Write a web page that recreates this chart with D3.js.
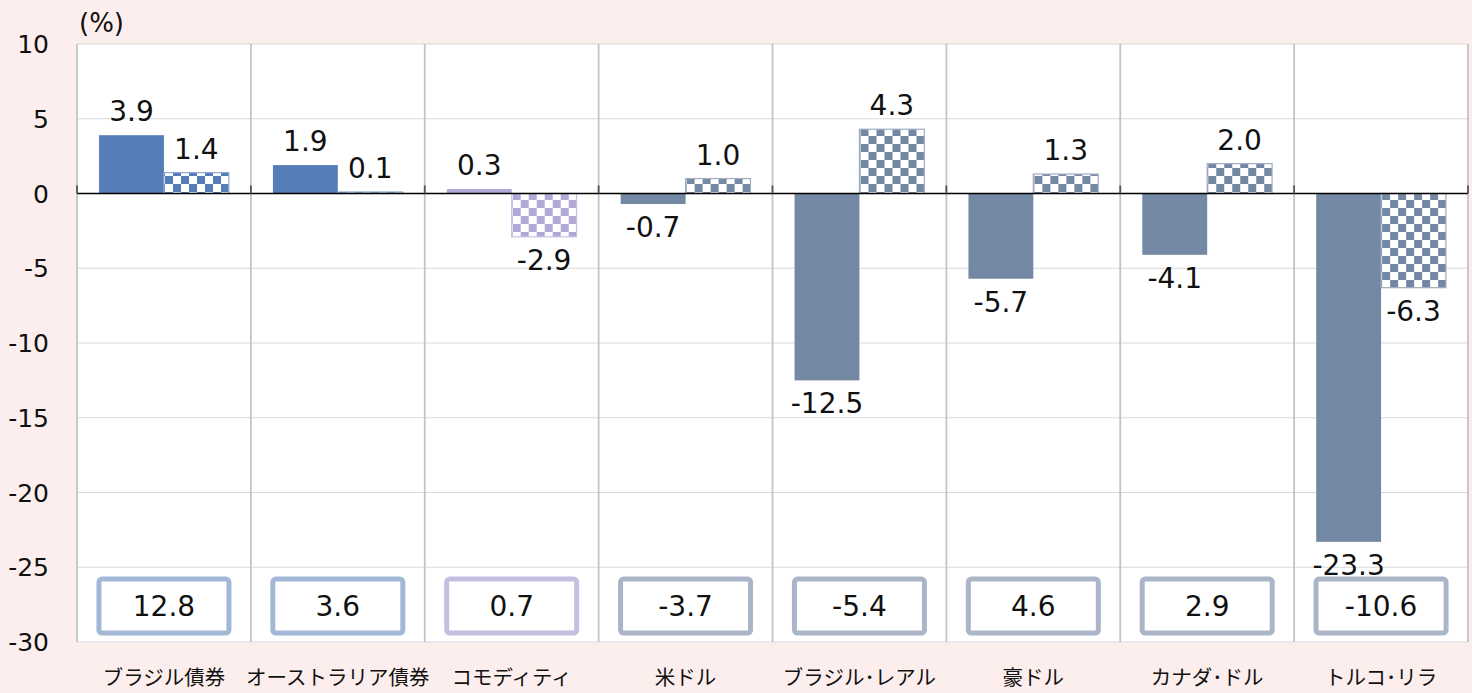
<!DOCTYPE html>
<html>
<head>
<meta charset="utf-8">
<script src="https://cdn.jsdelivr.net/npm/d3@7"></script>
<style>
  html, body { margin: 0; padding: 0; background: #fdeeee; }
  svg { display: block; }
  text { font-family: "DejaVu Sans", "Noto Sans CJK JP", sans-serif; fill: #111; }
  .cat-label { font-family: "Noto Sans CJK JP", sans-serif; }
</style>
</head>
<body>
<svg id="chart"></svg>
<script>
// chart data
const categories = ['ブラジル債券', 'オーストラリア債券', 'コモディティ', '米ドル', 'ブラジル･レアル', '豪ドル', 'カナダ･ドル', 'トルコ･リラ'];
const solidValues = [3.9, 1.9, 0.3, -0.7, -12.5, -5.7, -4.1, -23.3];
const checkValues = [1.4, 0.1, -2.9, 1.0, 4.3, 1.3, 2.0, -6.3];
const boxValues = [12.8, 3.6, 0.7, -3.7, -5.4, 4.6, 2.9, -10.6];
const yTicks = [10, 5, 0, -5, -10, -15, -20, -25, -30];
const groupOf = [0, 0, 1, 2, 2, 2, 2, 2];

const fillColors = ['#557db7', '#b3a7d5', '#7388a3'];
const edgeColors = ['#8fa8d2', '#c9c0e3', '#9eacc0'];
const boxColors = ['#a3b8d7', '#c6bee0', '#aab5c7'];

const width = 1472, height = 693;
const margin = { top: 44, right: 4, bottom: 51, left: 77 };

const fmt = v => v.toFixed(1);

const svg = d3.select('#chart')
  .attr('width', width)
  .attr('height', height);

// patterns for the checkered bars
const defs = svg.append('defs');
fillColors.forEach((c, i) => {
  const p = defs.append('pattern')
    .attr('id', 'check-' + i)
    .attr('patternUnits', 'userSpaceOnUse')
    .attr('width', 16)
    .attr('height', 16);
  p.append('rect').attr('width', 16).attr('height', 16).attr('fill', '#fff');
  p.append('rect').attr('x', 8).attr('y', 0).attr('width', 8).attr('height', 8).attr('fill', c);
  p.append('rect').attr('x', 0).attr('y', 8).attr('width', 8).attr('height', 8).attr('fill', c);
});

const x = d3.scaleBand()
  .domain(categories)
  .range([margin.left, width - margin.right]);

const y = d3.scaleLinear()
  .domain([-30, 10])
  .range([height - margin.bottom, margin.top]);

const inner = d3.scaleBand()
  .domain(['solid', 'check'])
  .range([0, x.bandwidth()])
  .paddingOuter(0.34);

// plot background
svg.append('rect')
  .attr('x', x.range()[0])
  .attr('y', y(10))
  .attr('width', x.range()[1] - x.range()[0])
  .attr('height', y(-30) - y(10))
  .attr('fill', '#fff');

// horizontal grid
svg.append('g')
  .selectAll('line')
  .data(yTicks.filter(d => d !== 0))
  .join('line')
  .attr('x1', x.range()[0])
  .attr('x2', x.range()[1])
  .attr('y1', d => y(d))
  .attr('y2', d => y(d))
  .attr('stroke', '#d9d9d9')
  .attr('stroke-width', 1);

// vertical grid between categories
const edges = categories.map(c => x(c)).concat([x.range()[1]]);
svg.append('g')
  .selectAll('line')
  .data(edges)
  .join('line')
  .attr('x1', d => d)
  .attr('x2', d => d)
  .attr('y1', y(10))
  .attr('y2', y(-30))
  .attr('stroke', '#c4c4c4')
  .attr('stroke-width', 1.8);

// y tick labels
svg.append('g')
  .selectAll('text')
  .data(yTicks)
  .join('text')
  .attr('x', 49)
  .attr('y', d => y(d))
  .attr('dy', '0.36em')
  .attr('text-anchor', 'end')
  .style('font-size', '25px')
  .text(d => d);

svg.append('text')
  .attr('x', 79)
  .attr('y', 32)
  .style('font-size', '26px')
  .text('(%)');

// bars
const groups = svg.append('g')
  .selectAll('g')
  .data(categories)
  .join('g')
  .attr('transform', d => `translate(${x(d)},0)`);

groups.append('rect')
  .attr('x', inner('solid'))
  .attr('width', inner.bandwidth())
  .attr('y', (d, i) => y(Math.max(0, solidValues[i])))
  .attr('height', (d, i) => Math.abs(y(solidValues[i]) - y(0)))
  .attr('fill', (d, i) => fillColors[groupOf[i]]);

groups.append('rect')
  .attr('x', inner('check'))
  .attr('width', inner.bandwidth())
  .attr('y', (d, i) => y(Math.max(0, checkValues[i])))
  .attr('height', (d, i) => Math.abs(y(checkValues[i]) - y(0)))
  .attr('fill', (d, i) => `url(#check-${groupOf[i]})`)
  .attr('stroke', (d, i) => edgeColors[groupOf[i]])
  .attr('stroke-width', 1.2);

// value labels: above positive bars, below negative ones
function addLabels(values, key) {
  groups.append('text')
    .attr('x', inner(key) + inner.bandwidth() / 2)
    .attr('y', (d, i) => values[i] >= 0 ? y(values[i]) - 14 : y(values[i]) + 33)
    .attr('text-anchor', 'middle')
    .style('font-size', '28px')
    .text((d, i) => fmt(values[i]));
}
addLabels(solidValues, 'solid');
addLabels(checkValues, 'check');

// zero line with small ticks
svg.append('line')
  .attr('x1', x.range()[0])
  .attr('x2', x.range()[1])
  .attr('y1', y(0))
  .attr('y2', y(0))
  .attr('stroke', '#000')
  .attr('stroke-width', 1.3);

svg.append('g')
  .selectAll('line')
  .data(edges)
  .join('line')
  .attr('x1', d => d)
  .attr('x2', d => d)
  .attr('y1', y(0) - 8)
  .attr('y2', y(0))
  .attr('stroke', '#555')
  .attr('stroke-width', 1.8);

// boxed values at the bottom
const boxW = 130, boxH = 54;
groups.append('rect')
  .attr('x', x.bandwidth() / 2 - boxW / 2)
  .attr('y', y(-27.6) - boxH / 2)
  .attr('width', boxW)
  .attr('height', boxH)
  .attr('rx', 3)
  .attr('fill', '#fff')
  .attr('stroke', (d, i) => boxColors[groupOf[i]])
  .attr('stroke-width', 5);

groups.append('text')
  .attr('x', x.bandwidth() / 2)
  .attr('y', y(-27.6))
  .attr('dy', '0.36em')
  .attr('text-anchor', 'middle')
  .style('font-size', '28px')
  .text((d, i) => fmt(boxValues[i]));

// category labels
groups.append('text')
  .attr('class', 'cat-label')
  .attr('x', x.bandwidth() / 2)
  .attr('y', 685)
  .attr('text-anchor', 'middle')
  .style('font-size', '20.5px')
  .text(d => d);
</script>
</body>
</html>
